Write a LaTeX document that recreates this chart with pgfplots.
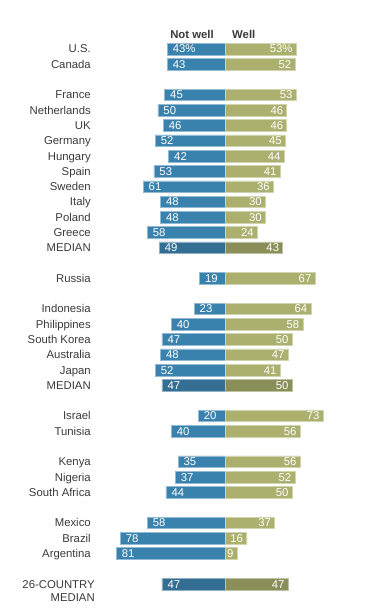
\documentclass[border=0pt]{standalone}
\usepackage{pgfplots}
\pgfplotsset{compat=1.18}
\usepackage{fontspec}
\setmainfont{Liberation Sans}
\definecolor{nw}{HTML}{3A82AE}
\definecolor{wl}{HTML}{ABB06E}
\definecolor{nwm}{HTML}{346E93}
\definecolor{wlm}{HTML}{8A8E58}
\definecolor{lab}{HTML}{3A3A3A}
\tikzset{clab/.style={anchor=base east, yshift=-3pt, inner sep=0pt, text=lab}}
\pgfplotstableread{
r nw nwl w wl
0 -43 43\% 53 53\%
1 -43 43 52 52
3 -45 45 53 53
4 -50 50 46 46
5 -46 46 46 46
6 -52 52 45 45
7 -42 42 44 44
8 -53 53 41 41
9 -61 61 36 36
10 -48 48 30 30
11 -48 48 30 30
12 -58 58 24 24
15 -19 19 67 67
17 -23 23 64 64
18 -40 40 58 58
19 -47 47 50 50
20 -48 48 47 47
21 -52 52 41 41
24 -20 20 73 73
25 -40 40 56 56
27 -35 35 56 56
28 -37 37 52 52
29 -44 44 50 50
31 -58 58 37 37
32 -78 78 16 16
33 -81 81 9 9
}\countries
\pgfplotstableread{
r nw nwl w wl
13 -49 49 43 43
22 -47 47 50 50
35 -47 47 47 47
}\medians
\begin{document}
\fontsize{8.5}{10}\selectfont
\begin{tikzpicture}
\begin{axis}[
  scale only axis, width=277.5pt, height=459.75pt,
  xmin=-167.66, xmax=108.05, ymin=-3.205, ymax=36.89, y dir=reverse,
  hide axis, clip=false,
  xbar, bar width=0.76, bar shift=0pt,
  nodes near coords, point meta=explicit symbolic,
  every node near coord/.append style={font=\fontsize{8.5}{10}\selectfont, text=white, inner sep=0pt},
]
\path (rel axis cs:0,0) rectangle (rel axis cs:1,1);
\addplot[fill=nw, draw=nw!55!white, line width=0.4pt,
  every node near coord/.append style={anchor=base west, xshift=4pt, yshift=-3pt}]
  table[x=nw, y=r, meta=nwl] {\countries};
\addplot[fill=wl, draw=wl!55!white, line width=0.4pt,
  every node near coord/.append style={anchor=base east, xshift=-2.5pt, yshift=-3pt}]
  table[x=w, y=r, meta=wl] {\countries};
\addplot[fill=nwm, draw=nwm!55!white, line width=0.4pt,
  every node near coord/.append style={anchor=base west, xshift=4pt, yshift=-3pt}]
  table[x=nw, y=r, meta=nwl] {\medians};
\addplot[fill=wlm, draw=wlm!55!white, line width=0.4pt,
  every node near coord/.append style={anchor=base east, xshift=-2.5pt, yshift=-3pt}]
  table[x=w, y=r, meta=wl] {\medians};
\node[font=\bfseries\fontsize{8.5}{10}\selectfont, anchor=base east, yshift=-3pt, inner sep=0pt, text=lab] at (axis cs:-8.2,-0.96) {Not well};
\node[font=\bfseries\fontsize{8.5}{10}\selectfont, anchor=base west, yshift=-3pt, inner sep=0pt, text=lab] at (axis cs:5.2,-0.96) {Well};
\foreach \rr/\nn in {0/U.S., 1/Canada, 3/France, 4/Netherlands, 5/UK, 6/Germany, 7/Hungary, 8/Spain, 9/Sweden, 10/Italy, 11/Poland, 12/Greece, 13/MEDIAN, 15/Russia, 17/Indonesia, 18/Philippines, 19/South Korea, 20/Australia, 21/Japan, 22/MEDIAN, 24/Israel, 25/Tunisia, 27/Kenya, 28/Nigeria, 29/South Africa, 31/Mexico, 32/Brazil, 33/Argentina}{
  \edef\temp{\noexpand\node[clab] at (axis cs:-99.85,\rr) {\nn};}\temp
}
\node[clab] at (axis cs:-96.9,35) {26-COUNTRY};
\node[clab] at (axis cs:-96.9,35.89) {MEDIAN};
\end{axis}
\end{tikzpicture}
\end{document}
